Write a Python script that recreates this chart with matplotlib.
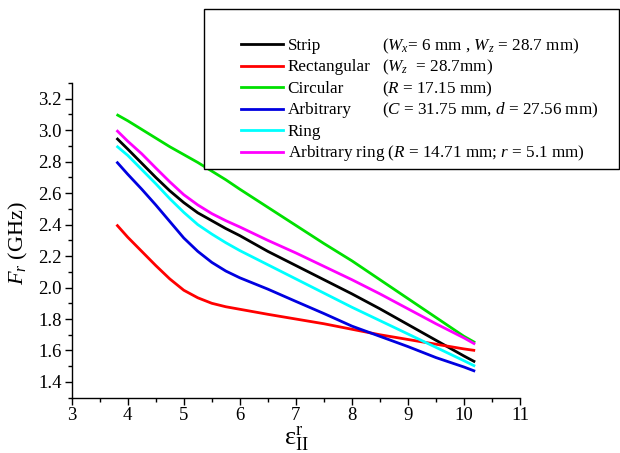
import matplotlib
matplotlib.use("Agg")
import matplotlib.pyplot as plt
from matplotlib.lines import Line2D
from matplotlib.patches import Rectangle
from matplotlib.ticker import FormatStrFormatter

plt.rcParams['font.family'] = ['Liberation Serif', 'DejaVu Serif']
plt.rcParams['mathtext.fontset'] = 'custom'
plt.rcParams['mathtext.rm'] = 'Liberation Serif'
plt.rcParams['mathtext.it'] = 'Liberation Serif:italic'
plt.rcParams['mathtext.bf'] = 'Liberation Serif:bold'

# ---- data ----
eps = [3.8, 4.0, 4.25, 4.5, 4.75, 5.0, 5.25, 5.5, 5.75, 6.0, 6.5, 7.0,
       7.5, 8.0, 8.5, 9.0, 9.5, 10.0, 10.2]
strip = [2.95, 2.88, 2.79, 2.70, 2.615, 2.54, 2.475, 2.425, 2.375, 2.33, 2.23, 2.14,
         2.05, 1.96, 1.865, 1.765, 1.665, 1.565, 1.527]
rectangular = [2.40, 2.32, 2.23, 2.14, 2.055, 1.983, 1.935, 1.90, 1.878, 1.862, 1.83, 1.80,
               1.77, 1.735, 1.70, 1.67, 1.64, 1.61, 1.60]
circular = [3.10, 3.06, 3.005, 2.95, 2.895, 2.845, 2.795, 2.74, 2.685, 2.625, 2.51, 2.395,
            2.28, 2.17, 2.05, 1.93, 1.81, 1.69, 1.65]
arbitrary = [2.80, 2.72, 2.625, 2.525, 2.42, 2.315, 2.23, 2.16, 2.105, 2.062, 1.99, 1.912,
             1.835, 1.755, 1.69, 1.625, 1.555, 1.495, 1.468]
ring = [2.90, 2.84, 2.75, 2.66, 2.565, 2.478, 2.40, 2.34, 2.285, 2.235, 2.145, 2.055,
        1.965, 1.875, 1.79, 1.705, 1.62, 1.535, 1.50]
arb_ring = [3.00, 2.93, 2.85, 2.76, 2.672, 2.59, 2.525, 2.47, 2.425, 2.385, 2.30, 2.22,
            2.135, 2.05, 1.96, 1.865, 1.77, 1.68, 1.64]

names = ['Strip', 'Rectangular', 'Circular', 'Arbitrary', 'Ring',
         'Arbitrary ring ($R$ = 14.71 mm; $r$ = 5.1 mm)']
notes = ['($W_x$= $6$ mm , $W_z$ = 28.7 mm)', '($W_z$  = 28.7mm)',
         '($R$ = 17.15 mm)', '($C$ = 31.75 mm, $d$ = 27.56 mm)', '', '']
series = [strip, rectangular, circular, arbitrary, ring, arb_ring]
colors = ['#000000', '#ff0000', '#00e000', '#0000e0', '#00ffff', '#ff00ff']

W, H = 620, 453
fig = plt.figure(figsize=(6.2, 4.53), dpi=100)
ax = fig.add_axes([71.7 / W, 1 - 397.7 / H, (520 - 71.7) / W, (397.7 - 83) / H])

for ys, c in zip(series, colors):
    ax.plot(eps, ys, color=c, lw=2.0, solid_capstyle='butt', solid_joinstyle='round')

ax.set_xlim(3, 11)
ax.set_ylim(1.3, 3.3)
ax.set_xticks(range(3, 12))
ax.set_xticks([x + 0.5 for x in range(3, 11)], minor=True)
ax.set_yticks([1.4, 1.6, 1.8, 2.0, 2.2, 2.4, 2.6, 2.8, 3.0, 3.2])
ax.set_yticks([1.3 + 0.1 * i for i in range(21)], minor=True)
ax.yaxis.set_major_formatter(FormatStrFormatter('%.1f'))
for s in ['top', 'right']:
    ax.spines[s].set_visible(False)
for s in ['left', 'bottom']:
    ax.spines[s].set_linewidth(1.0)
ax.tick_params(which='major', direction='out', length=5, width=1.0, labelsize=13.5, pad=2)
ax.tick_params(which='minor', direction='out', length=3, width=1.0)

ax.set_ylabel('$F_r$ (GHz)', fontsize=16)
ax.yaxis.set_label_coords(-0.093, 0.49)
ax.set_xlabel(r'$\mathrm{ε}^{\mathrm{r}}_{\mathrm{II}}$', fontsize=19, labelpad=0)

# ---- legend box ----
fig.add_artist(Rectangle((204 / W, 1 - 169 / H), (W - 1 - 204) / W, (169 - 9.3) / H,
                         transform=fig.transFigure, facecolor='white',
                         edgecolor='black', lw=1.0, zorder=5))
for i, (nm, nt, c) in enumerate(zip(names, notes, colors)):
    base = 50 + 21.45 * i
    yl = 1 - (base - 5.7) / H
    fig.add_artist(Line2D([240.7 / W, 283.3 / W], [yl, yl], transform=fig.transFigure,
                          color=c, lw=2.0, zorder=6))
    fig.text(287.7 / W, 1 - base / H, nm, fontsize=12.3, va='baseline', ha='left', zorder=6)
    if nt:
        fig.text(381.7 / W, 1 - base / H, nt, fontsize=12.3, va='baseline', ha='left', zorder=6)

fig.savefig('out.png', dpi=100)
